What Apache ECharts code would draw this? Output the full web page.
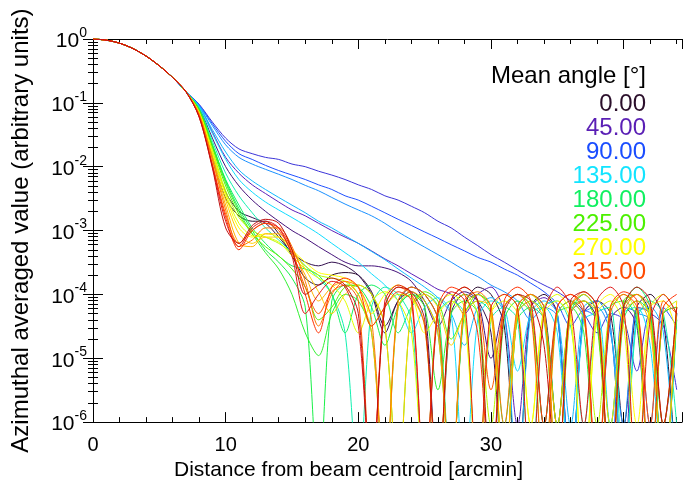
<!DOCTYPE html>
<html>
<head>
<meta charset="utf-8">
<script src="https://cdn.jsdelivr.net/npm/echarts@6/dist/echarts.min.js"></script>
<style>
  html, body { margin: 0; padding: 0; background: #fff; }
  #chart { width: 685px; height: 486px; }
</style>
</head>
<body>
<div id="chart"></div>
<script>
// distance from beam centroid [arcmin]
const distance = [0, 1, 2, 3, 4, 5, 6, 7, 8, 9, 10, 11, 12, 13, 14, 15, 16, 17, 18, 19, 20, 21,
  22, 23, 24, 25, 26, 27, 28, 29, 30, 31, 32, 33, 34, 35, 36, 37, 38, 39, 40, 41, 42, 43, 44];

// main lobe, common to every angle (0..7 arcmin)
const mainLobe = [1, 0.96, 0.86, 0.71, 0.54, 0.38, 0.25, 0.15];

// profiles from 8 arcmin outwards, one per mean angle
const tail000 = [0.071, 0.014, 3.2e-3, 1.7e-3, 1.4e-3, 1.4e-3, 8.9e-4, 4e-4, 1.8e-4, 1.4e-4, 2e-4, 2.2e-4, 2e-4, 1.1e-4, 3.2e-5, 7.9e-5, 1.3e-4, 1e-4, 4e-5, 1e-7, 6.3e-5, 1.3e-4, 1e-4, 3.2e-5, 1e-7, 6.3e-5, 1e-4, 5e-5, 1e-7, 5e-5, 7.9e-5, 5e-5, 9e-7, 6.3e-5, 1e-4, 4e-5, 1e-7];
const tail011 = [0.074, 0.016, 4e-3, 2e-3, 1.6e-3, 1.3e-3, 7.9e-4, 4.5e-4, 3.2e-4, 2.8e-4, 3.2e-4, 2.8e-4, 2e-4, 1e-4, 2.5e-5, 7.9e-5, 1.1e-4, 6.3e-5, 1e-7, 5e-5, 1e-4, 7.9e-5, 2.5e-5, 1e-7, 6.3e-5, 1e-4, 6.3e-5, 9e-7, 5e-5, 7.9e-5, 4e-5, 1e-7, 6.3e-5, 1e-4, 5e-5, 1e-7, 5e-5];
const tail022 = [0.083, 0.028, 0.01, 5e-3, 3e-3, 2e-3, 1.4e-3, 1e-3, 7.6e-4, 5.6e-4, 4.2e-4, 3.2e-4, 2.8e-4, 2.8e-4, 2.6e-4, 2.2e-4, 1.6e-4, 7.9e-5, 3.2e-5, 7.9e-5, 1.1e-4, 7.9e-5, 1e-5, 6.3e-5, 1e-4, 6.3e-5, 9e-7, 5e-5, 7.9e-5, 5e-5, 1e-7, 4e-5, 6.3e-5, 3.2e-5, 1e-7, 5e-5, 6.3e-5];
const tail045 = [0.089, 0.035, 0.014, 7.9e-3, 5.2e-3, 3.8e-3, 2.8e-3, 2.1e-3, 1.7e-3, 1.3e-3, 1e-3, 7.9e-4, 6.3e-4, 4.8e-4, 3.6e-4, 2.8e-4, 2.1e-4, 1.6e-4, 1.2e-4, 1e-4, 5e-5, 1e-4, 1.3e-4, 5e-5, 9e-7, 6.3e-5, 8.9e-5, 5e-5, 1e-7, 5e-5, 7.9e-5, 3.2e-5, 1e-7, 6.3e-5, 5e-5, 9e-7, 4e-5];
const tail067 = [0.095, 0.05, 0.028, 0.019, 0.016, 0.014, 1.3e-2, 1.1e-2, 1e-2, 8.5e-3, 7.4e-3, 6.3e-3, 5.2e-3, 4.4e-3, 3.5e-3, 3e-3, 2.4e-3, 1.9e-3, 1.4e-3, 1.1e-3, 7.9e-4, 5.8e-4, 4.2e-4, 3.2e-4, 2.4e-4, 1.8e-4, 1.4e-4, 1.1e-4, 7.9e-5, 5e-5, 2.5e-5, 5e-5, 4e-5, 6.3e-6, 5e-5, 3.2e-5, 3.2e-6];
const tail090 = [0.093, 0.047, 0.025, 0.016, 0.013, 1.05e-2, 8.7e-3, 7.4e-3, 6.3e-3, 5.2e-3, 4.4e-3, 3.5e-3, 3e-3, 2.4e-3, 1.9e-3, 1.5e-3, 1.2e-3, 9.5e-4, 7.6e-4, 6e-4, 4.8e-4, 3.8e-4, 3.2e-4, 2.5e-4, 2e-4, 1.5e-4, 1.1e-4, 7.1e-5, 3.2e-5, 5.6e-5, 4e-5, 1e-7, 6.3e-5, 5e-5, 9e-7, 6.3e-5, 3.2e-5];
const tail112 = [0.091, 0.044, 0.022, 0.014, 0.011, 9.1e-3, 7.6e-3, 6.3e-3, 5.1e-3, 4.2e-3, 3.3e-3, 2.6e-3, 2.1e-3, 1.7e-3, 1.3e-3, 9.5e-4, 7.2e-4, 5.5e-4, 4.2e-4, 3.2e-4, 2.4e-4, 1.9e-4, 1.4e-4, 1.1e-4, 7.9e-5, 4e-5, 6.3e-5, 4.5e-5, 1e-7, 5e-5, 6.3e-5, 2.5e-5, 9e-7, 5e-5, 4e-5, 1e-7, 5e-5];
const tail123 = [0.089, 0.038, 0.017, 8.9e-3, 6e-3, 4.4e-3, 3.3e-3, 2.5e-3, 1.9e-3, 1.4e-3, 1.1e-3, 8.3e-4, 6.3e-4, 4.7e-4, 3.5e-4, 2.5e-4, 1.8e-4, 1.3e-4, 8.9e-5, 5e-5, 1.6e-5, 6.3e-5, 8.9e-5, 5e-5, 1e-7, 5e-5, 7.9e-5, 5e-5, 9e-7, 6.3e-5, 7.9e-5, 3.2e-5, 1e-7, 5e-5, 6.3e-5, 2.5e-5, 1e-7];
const tail135 = [0.087, 0.033, 1.3e-2, 6.3e-3, 4e-3, 2.8e-3, 2.1e-3, 1.6e-3, 1.2e-3, 8.9e-4, 6.3e-4, 4.5e-4, 3.2e-4, 2.1e-4, 1.4e-4, 7.9e-5, 2.5e-5, 6.3e-5, 8.9e-5, 5e-5, 1e-7, 4e-5, 7.9e-5, 6.3e-5, 6.3e-6, 5e-5, 6.3e-5, 2.5e-5, 1e-7, 4e-5, 5e-5, 9e-7, 5e-5, 6.3e-5, 1.6e-5, 1e-7, 5e-5];
const tail157 = [0.083, 0.025, 7.9e-3, 3.5e-3, 1.9e-3, 1.1e-3, 7.1e-4, 4.5e-4, 2.8e-4, 1.8e-4, 1e-4, 2.5e-5, 1e-7, 6.3e-5, 1.3e-4, 1e-4, 4e-5, 1e-7, 5e-5, 7.9e-5, 5e-5, 1e-7, 4e-5, 6.3e-5, 4e-5, 1e-7, 6.3e-5, 7.9e-5, 3.2e-5, 9e-7, 5e-5, 6.3e-5, 1e-7, 4e-5, 7.9e-5, 5e-5, 9e-7];
const tail180 = [0.079, 0.022, 6.3e-3, 2.5e-3, 1.1e-3, 6.3e-4, 4e-4, 2.8e-4, 2.5e-4, 2e-4, 1e-4, 2.5e-5, 1e-4, 1.4e-4, 1e-4, 2.5e-5, 6.3e-5, 1e-4, 6.3e-5, 1e-7, 5e-5, 7.9e-5, 5e-5, 9e-7, 4e-5, 6.3e-5, 4e-5, 1e-7, 5e-5, 1e-4, 5e-5, 9e-7, 6.3e-5, 1.3e-4, 6.3e-5, 1e-7, 4e-5];
const tail191 = [0.079, 0.022, 6e-3, 2.2e-3, 1e-3, 5e-4, 3.2e-4, 1.8e-4, 6.3e-5, 1e-7, 7.9e-5, 1.4e-4, 1.3e-4, 6.3e-5, 1.6e-5, 6.3e-5, 1e-4, 7.9e-5, 2.5e-5, 1e-7, 6.3e-5, 1e-4, 6.3e-5, 1e-7, 5e-5, 7.9e-5, 5e-5, 9e-7, 6.3e-5, 1e-4, 5e-5, 1e-7, 4e-5, 7.9e-5, 5e-5, 1e-7, 6.3e-5];
const tail202 = [0.079, 0.021, 5.6e-3, 2e-3, 8.9e-4, 4.5e-4, 2.5e-4, 1e-4, 2.5e-5, 1.1e-5, 5e-5, 1e-4, 7.9e-5, 2.5e-5, 1e-7, 6.3e-5, 1e-4, 6.3e-5, 3.2e-6, 5e-5, 7.9e-5, 5e-5, 1e-7, 4e-5, 7.9e-5, 5e-5, 9e-7, 5e-5, 6.3e-5, 2.5e-5, 1e-7, 6.3e-5, 7.9e-5, 4e-5, 1e-7, 5e-5, 6.3e-5];
const tail225 = [0.076, 0.02, 5e-3, 1.8e-3, 8.9e-4, 5.6e-4, 4e-4, 2.5e-4, 1.3e-4, 4e-5, 6.3e-5, 1.3e-4, 1.4e-4, 1e-4, 3.2e-5, 1e-7, 6.3e-5, 1.1e-4, 7.9e-5, 2e-5, 5e-5, 1e-4, 6.3e-5, 1e-7, 5e-5, 1e-4, 5e-5, 9e-7, 6.3e-5, 7.9e-5, 3.2e-5, 1e-7, 7.9e-5, 1e-4, 4e-5, 9e-7, 6.3e-5];
const tail247 = [0.072, 0.018, 4.2e-3, 1.6e-3, 1e-3, 7.9e-4, 6.3e-4, 4.5e-4, 2.8e-4, 2e-4, 1.8e-4, 1.6e-4, 1e-4, 3.2e-5, 6.3e-5, 1e-4, 8.9e-5, 3.2e-5, 1e-7, 6.3e-5, 1e-4, 5e-5, 9e-7, 6.3e-5, 1e-4, 6.3e-5, 1e-7, 5e-5, 7.9e-5, 4e-5, 9e-7, 6.3e-5, 1e-4, 5e-5, 1e-7, 5e-5, 7.9e-5];
const tail258 = [0.071, 0.017, 3.8e-3, 1.3e-3, 8.3e-4, 7.9e-4, 6.6e-4, 4e-4, 2.5e-4, 1.8e-4, 1.4e-4, 7.9e-5, 2.5e-5, 7.9e-5, 1.1e-4, 7.9e-5, 2.5e-5, 1e-7, 6.3e-5, 1e-4, 6.3e-5, 1e-7, 5e-5, 7.9e-5, 5e-5, 9e-7, 6.3e-5, 1e-4, 5e-5, 1e-7, 5e-5, 7.9e-5, 3.2e-5, 1e-7, 6.3e-5, 1e-4, 5e-5];
const tail270 = [0.071, 0.016, 3.5e-3, 1.1e-3, 7.9e-4, 8.9e-4, 7.9e-4, 5e-4, 3.2e-4, 2.2e-4, 2e-4, 1.8e-4, 1.3e-4, 5e-5, 1e-4, 1.4e-4, 1e-4, 2.5e-5, 5e-5, 7.9e-5, 4e-5, 1e-7, 5e-5, 1e-4, 6.3e-5, 9e-7, 5e-5, 7.9e-5, 4e-5, 1e-7, 6.3e-5, 1e-4, 5e-5, 9e-7, 6.3e-5, 7.9e-5, 2.5e-5];
const tail281 = [0.069, 0.014, 3e-3, 8.9e-4, 6.3e-4, 7.9e-4, 7.9e-4, 5e-4, 2.5e-4, 1.1e-4, 5e-5, 1e-4, 1.4e-4, 1e-4, 3.2e-5, 1e-7, 6.3e-5, 1e-4, 6.3e-5, 1.6e-5, 5e-5, 7.9e-5, 6.3e-5, 1e-7, 6.3e-5, 1e-4, 5e-5, 1e-7, 5e-5, 7.9e-5, 5e-5, 9e-7, 6.3e-5, 1e-4, 4e-5, 1e-7, 7.9e-5];
const tail292 = [0.068, 0.013, 2.5e-3, 6.3e-4, 5.6e-4, 8.9e-4, 8.9e-4, 5e-4, 2e-4, 7.9e-5, 1.3e-4, 1.6e-4, 1e-4, 2.5e-5, 1e-7, 6.3e-5, 1.1e-4, 7.9e-5, 2.5e-5, 1e-7, 6.3e-5, 1e-4, 5e-5, 1e-7, 5e-5, 7.9e-5, 4e-5, 9e-7, 6.3e-5, 1e-4, 5e-5, 1e-7, 5e-5, 7.9e-5, 3.2e-5, 1e-7, 6.3e-5];
const tail303 = [0.066, 0.013, 2.1e-3, 5.6e-4, 7.1e-4, 1.1e-3, 1.1e-3, 5.6e-4, 1.6e-4, 3.2e-5, 1e-4, 1.6e-4, 1.3e-4, 4e-5, 1e-7, 7.9e-5, 1.3e-4, 1e-4, 4e-5, 1e-7, 7.9e-5, 1.1e-4, 6.3e-5, 9e-7, 6.3e-5, 1e-4, 6.3e-5, 1e-7, 6.3e-5, 1.1e-4, 6.3e-5, 1e-7, 5e-5, 1e-4, 6.3e-5, 9e-7, 6.3e-5];
const tail315 = [0.063, 0.011, 1.8e-3, 6.3e-4, 1e-3, 1.3e-3, 1e-3, 4.5e-4, 1.3e-4, 5e-5, 1.1e-4, 1.4e-4, 7.9e-5, 1e-7, 6.3e-5, 1.3e-4, 1e-4, 3.2e-5, 1e-7, 7.9e-5, 1.3e-4, 7.9e-5, 3.2e-6, 6.3e-5, 1e-4, 5e-5, 1e-7, 6.3e-5, 1e-4, 5e-5, 1e-7, 5e-5, 1e-4, 6.3e-5, 9e-7, 7.9e-5, 5e-5];
const tail326 = [0.062, 0.0105, 1.6e-3, 5e-4, 1e-3, 1.3e-3, 1.1e-3, 5e-4, 1e-4, 2.5e-5, 1.3e-4, 1.8e-4, 1.3e-4, 3.2e-5, 6.3e-5, 1.1e-4, 7.9e-5, 1e-7, 6.3e-5, 1.3e-4, 1e-4, 2.5e-5, 1e-7, 7.9e-5, 1.3e-4, 7.9e-5, 9e-7, 6.3e-5, 1e-4, 6.3e-5, 1e-7, 6.3e-5, 1.1e-4, 7.9e-5, 1e-7, 6.3e-5, 1e-4];
const tail337 = [0.06, 0.01, 1.4e-3, 5.6e-4, 1.1e-3, 1.4e-3, 1.1e-3, 4e-4, 5e-5, 1e-4, 1.6e-4, 1.3e-4, 3.2e-5, 1e-7, 7.9e-5, 1.4e-4, 1e-4, 1e-7, 5e-5, 1.1e-4, 7.9e-5, 1e-7, 6.3e-5, 1e-4, 6.3e-5, 1e-7, 5e-5, 1.3e-4, 6.3e-5, 9e-7, 7.9e-5, 1.3e-4, 6.3e-5, 1e-7, 4e-5, 1e-4, 5e-5];
const tail348 = [0.06, 9.5e-3, 1.1e-3, 6.3e-4, 1.2e-3, 1.5e-3, 1.3e-3, 5e-4, 1e-4, 1.4e-4, 1.8e-4, 1.4e-4, 5e-5, 1e-7, 6.3e-5, 1.3e-4, 1.1e-4, 4e-5, 1e-7, 7.9e-5, 1.3e-4, 7.9e-5, 1e-7, 5e-5, 1e-4, 7.9e-5, 1.6e-5, 1e-7, 7.9e-5, 1.1e-4, 6.3e-5, 1e-7, 6.3e-5, 1.3e-4, 7.9e-5, 9e-7, 6.3e-5];

const angles = [0, 11.25, 22.5, 45, 67.5, 90, 112.5, 123.75, 135, 157.5, 180, 191.25,
  202.5, 225, 247.5, 258.75, 270, 281.25, 292.5, 303.75, 315, 326.25, 337.5, 348.75];
const tails = [tail000, tail011, tail022, tail045, tail067, tail090, tail112, tail123, tail135, tail157, tail180, tail191,
  tail202, tail225, tail247, tail258, tail270, tail281, tail292, tail303, tail315, tail326, tail337, tail348];
const lineColors = ['#2a0e30', '#33104f', '#44127a', '#5b1fb8', '#3b34d8', '#1f50ff', '#1a90ff', '#10b8ff', '#10dcff', '#10f0b0', '#10f060', '#18f048',
  '#30f030', '#58f000', '#b8f800', '#e0ff00', '#ffff00', '#ffd000', '#ffb000', '#ff7800', '#ff5a00', '#ff3000', '#e01818', '#c01010'];

// legend text (every 45 degrees)
const legendLabels = ['0.00', '45.00', '90.00', '135.00', '180.00', '225.00', '270.00', '315.00'];
const legendColors = ['#2b0f2b', '#5a1fb5', '#1a4dff', '#12e4ff', '#10f060', '#4cf000', '#ffff00', '#ff4a00'];

const font = 'Liberation Sans, Arial, Helvetica, sans-serif';
const black = '#000';

const chart = echarts.init(document.getElementById('chart'));

const series = angles.map((a, i) => ({
  name: String(a),
  type: 'line',
  xAxisIndex: 0,
  yAxisIndex: 0,
  data: distance.map((d, j) => [d, j < mainLobe.length ? mainLobe[j] : tails[i][j - mainLobe.length]]),
  showSymbol: false,
  symbol: 'none',
  smooth: 0.3,
  clip: true,
  silent: true,
  lineStyle: { width: 1, color: lineColors[i] },
}));

const legendGraphics = [{
  type: 'text', x: 646, y: 76,
  style: { text: 'Mean angle [°]', align: 'right', verticalAlign: 'middle', font: '24px ' + font, fill: black },
}].concat(legendLabels.map((t, i) => ({
  type: 'text', x: 646, y: 104 + i * 24.1,
  style: { text: t, align: 'right', verticalAlign: 'middle', font: '24px ' + font, fill: legendColors[i] },
})));

const tickStyle = { color: black, width: 1 };

const option = {
  animation: false,
  backgroundColor: '#fff',
  grid: { left: 93, right: 1, top: 39, bottom: 63, containLabel: false },
  xAxis: [
    {
      type: 'value', position: 'bottom', min: 0, max: 44.4, interval: 10,
      name: 'Distance from beam centroid [arcmin]',
      nameLocation: 'middle', nameGap: 31,
      nameTextStyle: { fontSize: 21, fontFamily: font, color: black, padding: [0, 78, 0, 0] },
      axisLine: { show: true, lineStyle: tickStyle },
      axisTick: { show: true, inside: true, length: 10, lineStyle: tickStyle },
      minorTick: { show: true, splitNumber: 5, length: 5, lineStyle: tickStyle },
      axisLabel: {
        fontSize: 20, fontFamily: font, color: black, margin: 13,
        formatter: v => (v > 35 ? '' : String(v)),
      },
      splitLine: { show: false },
    },
    {
      type: 'value', position: 'top', min: 0, max: 44.4, interval: 10,
      axisLine: { show: true, lineStyle: tickStyle },
      axisTick: { show: true, inside: true, length: 10, lineStyle: tickStyle },
      minorTick: { show: true, splitNumber: 5, length: 5, lineStyle: tickStyle },
      axisLabel: { show: false },
      splitLine: { show: false },
    },
  ],
  yAxis: [
    {
      type: 'log', logBase: 10, position: 'left', min: 1e-6, max: 1,
      name: 'Azimuthal averaged value (arbitrary units)',
      nameLocation: 'middle', nameGap: 60,
      nameTextStyle: { fontSize: 24, fontFamily: font, color: black },
      axisLine: { show: true, lineStyle: tickStyle },
      axisTick: { show: true, inside: true, length: 10, lineStyle: tickStyle },
      minorTick: { show: true, splitNumber: 9, length: 5, lineStyle: tickStyle },
      axisLabel: {
        margin: 6,
        formatter: v => '{b|10}{e|' + Math.round(Math.log10(v)) + '}',
        rich: {
          b: { fontSize: 21, fontFamily: font, color: black, padding: [5, 0, 0, 0] },
          e: { fontSize: 14, fontFamily: font, color: black, verticalAlign: 'top' },
        },
      },
      splitLine: { show: false },
      minorSplitLine: { show: false },
    },
    {
      type: 'log', logBase: 10, position: 'right', min: 1e-6, max: 1,
      axisLine: { show: true, lineStyle: tickStyle },
      axisTick: { show: true, inside: true, length: 10, lineStyle: tickStyle },
      minorTick: { show: true, splitNumber: 9, length: 5, lineStyle: tickStyle },
      axisLabel: { show: false },
      splitLine: { show: false },
      minorSplitLine: { show: false },
    },
  ],
  graphic: legendGraphics,
  series: series,
};

chart.setOption(option);
</script>
</body>
</html>
